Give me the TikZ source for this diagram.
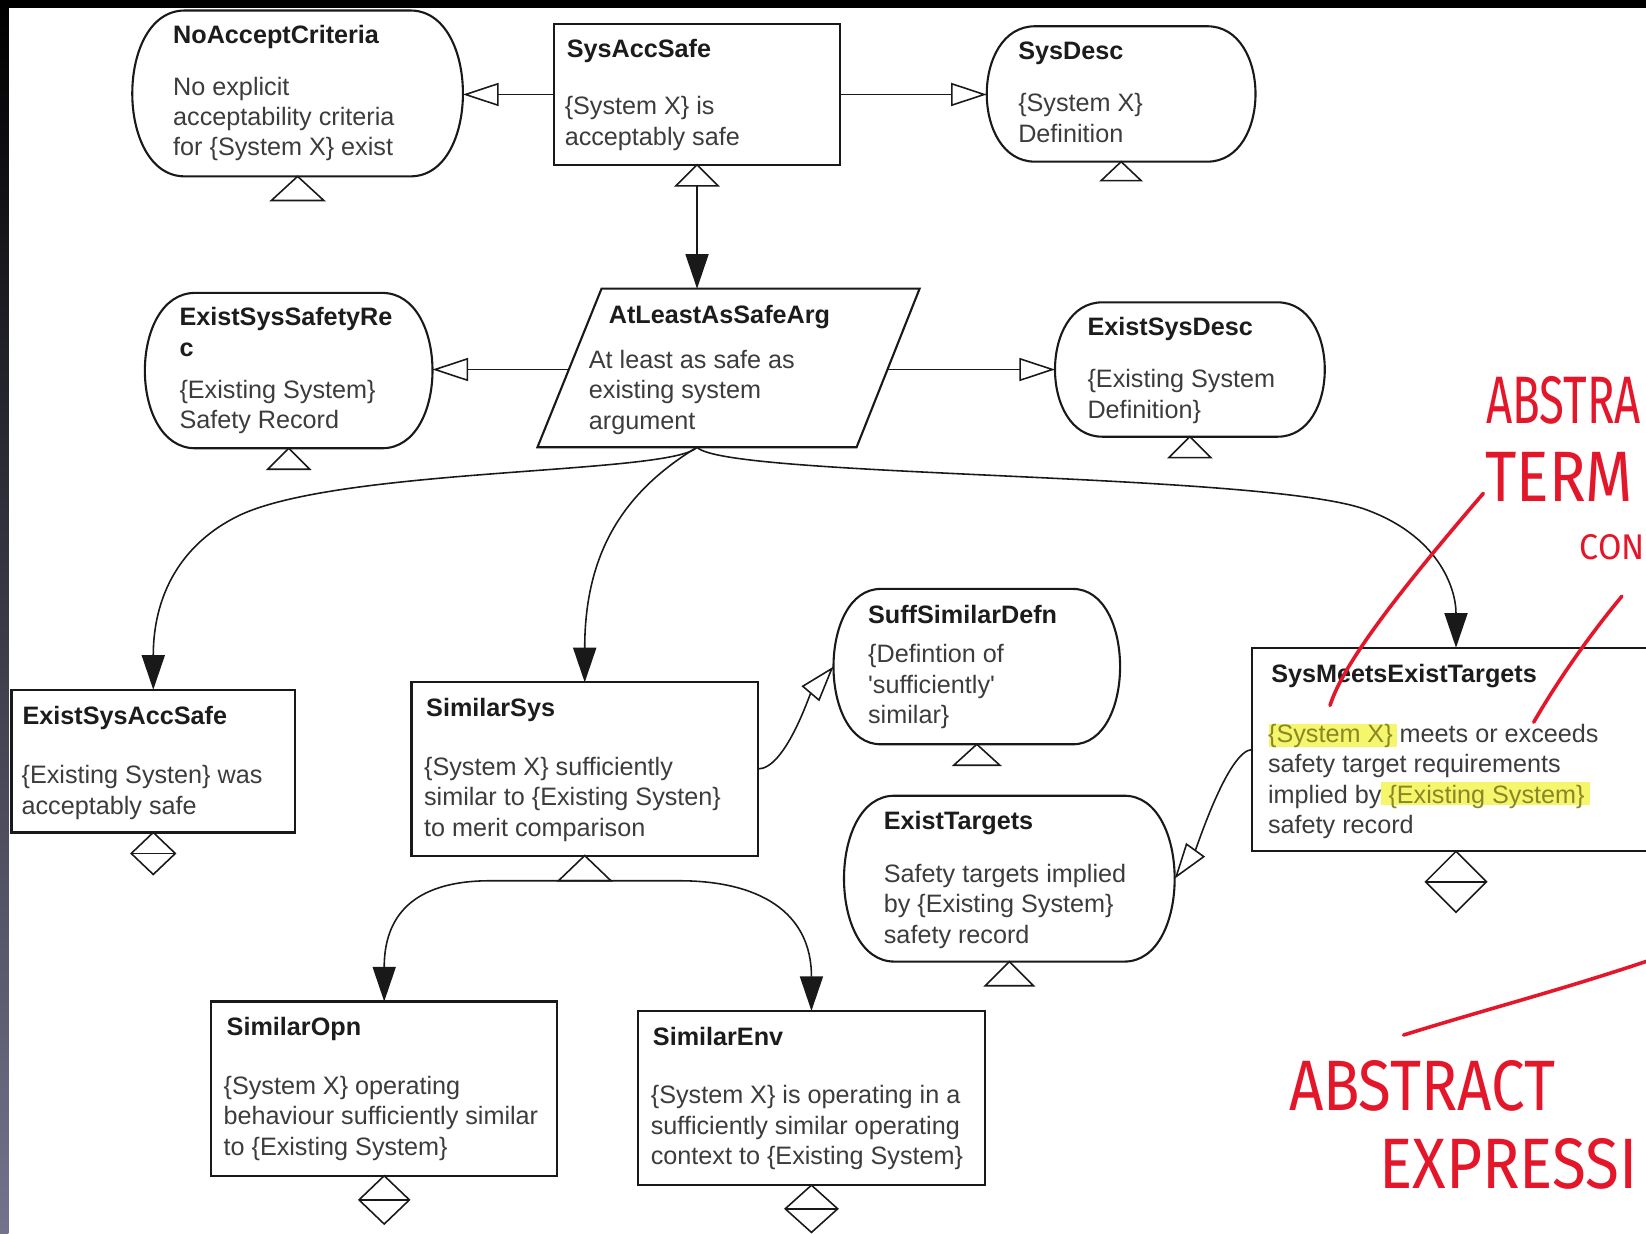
\documentclass[tikz,border=0pt]{standalone}
\usepackage{graphicx}
\usepackage{fontspec}
\setmainfont{Liberation Sans}
\newfontfamily\plainq{Liberation Sans}
\newfontfamily\hand{Fira Sans}
\usetikzlibrary{arrows.meta,calc,fit}
\definecolor{lnc}{RGB}{25,25,25}
\definecolor{titc}{RGB}{28,28,28}
\definecolor{bodc}{RGB}{60,60,60}
\definecolor{penred}{RGB}{228,22,42}
\definecolor{hlyel}{RGB}{246,246,108}
\definecolor{hltxt}{RGB}{135,135,40}
\definecolor{stripbot}{RGB}{115,115,140}
\newcommand{\Lns}[1]{\vtop{\baselineskip=14.5pt\lineskiplimit=-30pt\lineskip=0pt #1}}
\newcommand{\sq}{{\plainq'}}
\newcommand{\ctxdraw}[2]{\draw[sym, line width=1pt] ($(#1.north west)+(#2,0)$) -- ($(#1.north east)+(-#2,0)$) .. controls +({1.3333*#2},0) and +({1.3333*#2},0) .. ($(#1.south east)+(-#2,0)$) -- ($(#1.south west)+(#2,0)$) .. controls +({-1.3333*#2},0) and +({-1.3333*#2},0) .. ($(#1.north west)+(#2,0)$) -- cycle;}
\newcommand{\undevtri}[3]{\draw[sym] (#1.south) -- ++(#2,#3) -- ++({-2*#2},0) -- cycle;}
\newcommand{\instdiam}[3]{\draw[sym] (#1.south) -- ++(#2,#3) -- ++(-#2,#3) -- ++(-#2,-#3) -- cycle; \draw[sym] ($(#1.south)+(-#2,#3)$) -- ++({2*#2},0);}
\tikzset{
 every node/.style={inner sep=0pt, outer sep=0pt},
 goalbox/.style={draw=lnc, line width=1pt, fill=white},
 ctxbox/.style={draw=none},
 ttl/.style={anchor=base west, text=titc, font=\fontsize{12pt}{14.5pt}\selectfont\bfseries},
 bdy/.style={anchor=base west, text=bodc, font=\fontsize{12pt}{14.5pt}\selectfont},
 conn/.style={draw=lnc, line width=0.75pt},
 supp/.style={conn, -{Triangle[length=16.5pt,width=11pt]}},
 incx/.style={conn, -{Triangle[open,length=17pt,width=11pt,fill=white]}},
 sym/.style={draw=lnc, line width=0.75pt, fill=white},
 redline/.style={draw=penred, line width=1.7pt, line cap=round},
 pentxt/.style={text=penred, anchor=base west}
}
\begin{document}
\begin{tikzpicture}[x=0.5pt,y=-0.5pt]
\useasboundingbox (0,0) rectangle (1568,1175);
\clip (0,0) rectangle (1568,1175);
\fill[white] (0,0) rectangle (1568,1175);
\shade[top color=black, bottom color=stripbot] (0,0) rectangle (8,1175);
\fill[black] (0,0) rectangle (1568,7.5);

% ---------- NoAcceptCriteria
\node[ctxbox, fit={(126,10) (441,168)}] (nac) {};
\ctxdraw{nac}{50}
\undevtri{nac}{25}{23}
\node[ttl] (nacT) at (165,41.5) {NoAcceptCriteria};
\node[bdy] (nacB) at (165,90.5) {\Lns{\hbox{No explicit}\hbox{acceptability criteria}\hbox{for \{System X\} exist}}};

% ---------- SysAccSafe
\node[goalbox, fit={(528,23) (800,157)}] (sas) {};
\undevtri{sas}{20}{20}
\coordinate (sasTb) at ($(sas.south)+(0,20)$);
\node[ttl] (sasT) at (540,54.5) {SysAccSafe};
\node[bdy] (sasB) at (538,109.5) {\Lns{\hbox{\{System X\} is}\hbox{acceptably safe}}};

% ---------- SysDesc
\node[ctxbox, fit={(940,25) (1196,154)}] (sd) {};
\ctxdraw{sd}{46}
\undevtri{sd}{19}{18}
\node[ttl] (sdT) at (970,56.5) {SysDesc};
\node[bdy] (sdB) at (970,106.5) {\Lns{\hbox{\{System X\}}\hbox{Definition}}};

% ---------- AtLeastAsSafeArg
\draw[sym, line width=1pt] (573,275) -- (876,275) -- (816,426) -- (512,426) -- cycle;
\coordinate (argT) at (664,275);
\coordinate (argB) at (664,426);
\coordinate (argL) at (542,352);
\coordinate (argR) at (845,352);
\node[ttl] (argTt) at (580,308) {AtLeastAsSafeArg};
\node[bdy] (argBt) at (561,351) {\Lns{\hbox{At least as safe as}\hbox{existing system}\hbox{argument}}};

% ---------- ExistSysSafetyRec
\node[ctxbox, fit={(138,279) (412,427)}] (esr) {};
\ctxdraw{esr}{48}
\undevtri{esr}{20}{20}
\node[ttl] (esrT) at (171,310.5) {\Lns{\hbox{ExistSysSafetyRe}\hbox{c}}};
\node[bdy] (esrB) at (171,379.5) {\Lns{\hbox{\{Existing System\}}\hbox{Safety Record}}};

% ---------- ExistSysDesc
\node[ctxbox, fit={(1005,288) (1262,416)}] (esd) {};
\ctxdraw{esd}{45}
\undevtri{esd}{20}{20}
\node[ttl] (esdT) at (1036,319.5) {ExistSysDesc};
\node[bdy] (esdB) at (1036,369.5) {\Lns{\hbox{\{Existing System}\hbox{Definition\}}}};

% ---------- ExistSysAccSafe
\node[goalbox, fit={(11,657) (281,793)}] (esa) {};
\instdiam{esa}{21}{20}
\node[ttl] (esaT) at (21.6,690.5) {ExistSysAccSafe};
\node[bdy] (esaB) at (20.6,746.5) {\Lns{\hbox{\{Existing Systen\} was}\hbox{acceptably safe}}};

% ---------- SimilarSys
\node[goalbox, fit={(392,650) (722,815)}] (ss) {};
\undevtri{ss}{25}{24}
\coordinate (ssTb) at ($(ss.south)+(0,24)$);
\node[ttl] (ssT) at (406,682.5) {SimilarSys};
\node[bdy] (ssB) at (404,738.5) {\Lns{\hbox{\{System X\} sufficiently}\hbox{similar to \{Existing Systen\}}\hbox{to merit comparison}}};

% ---------- SuffSimilarDefn
\node[ctxbox, fit={(794,561) (1067,709)}] (ssd) {};
\ctxdraw{ssd}{45}
\undevtri{ssd}{22}{20}
\node[ttl] (ssdT) at (827,593.5) {SuffSimilarDefn};
\node[bdy] (ssdB) at (827,631.5) {\Lns{\hbox{\{Defintion of}\hbox{\sq sufficiently\sq}\hbox{similar\}}}};

% ---------- ExistTargets
\node[ctxbox, fit={(804,758) (1119,916)}] (et) {};
\ctxdraw{et}{48}
\undevtri{et}{23}{23}
\node[ttl] (etT) at (842,790.5) {ExistTargets};
\node[bdy] (etB) at (842,840.5) {\Lns{\hbox{Safety targets implied}\hbox{by \{Existing System\}}\hbox{safety record}}};

% ---------- SysMeetsExistTargets
\node[goalbox, fit={(1193,617) (1581,811)}] (smt) {};
\instdiam{smt}{29}{29}
\fill[hlyel] (1209,690) rectangle (1331,712);
\fill[hlyel] (1316,745) rectangle (1515,767);
\node[ttl] (smtT) at (1211,650) {SysMeetsExistTargets};
\node[bdy] (smtB) at (1208,707) {\Lns{\hbox{{\color{hltxt}\{System X\}} meets or exceeds}\hbox{safety target requirements}\hbox{implied by {\color{hltxt}\{Existing System\}}}\hbox{safety record}}};

% ---------- SimilarOpn
\node[goalbox, fit={(201,954) (531,1120)}] (so) {};
\instdiam{so}{24}{23}
\node[ttl] (soT) at (216,986.5) {SimilarOpn};
\node[bdy] (soB) at (213,1042.5) {\Lns{\hbox{\{System X\} operating}\hbox{behaviour sufficiently similar}\hbox{to \{Existing System\}}}};

% ---------- SimilarEnv
\node[goalbox, fit={(608,963) (938,1129)}] (se) {};
\instdiam{se}{25}{22.5}
\node[ttl] (seT) at (622,995.5) {SimilarEnv};
\node[bdy] (seB) at (620,1051.5) {\Lns{\hbox{\{System X\} is operating in a}\hbox{sufficiently similar operating}\hbox{context to \{Existing System\}}}};

% ---------- connectors
\draw[incx] (sas.west) -- (sas.west -| nac.east);
\draw[incx] (sas.east) -- (sas.east -| sd.west);
\draw[supp] (sasTb) -- (argT);
\draw[incx] (argL) -- (argL -| esr.east);
\draw[incx] (argR) -- (argR -| esd.west);
\draw[supp] (argB) .. controls (640,452) and (330,445) .. (230,490) .. controls (170,518) and (146,570) .. (esa.north);
\draw[supp] (argB) .. controls (600,465) and (557,520) .. (ss.north);
\draw[supp] (argB) .. controls (690,455) and (1200,450) .. (1300,485) .. controls (1370,510) and (1387,560) .. (smt.north);
\draw[incx] (ss.east) .. controls +(26,0) and (771,662) .. (ssd.west);
\draw[incx] (smt.west) .. controls +(-23,0) and (1140,808) .. (et.east);
\draw[supp] (ssTb) -- ++(-90,0) .. controls +(-75,0) and +(0,-80) .. (so.north);
\draw[supp] (ssTb) -- ++(90,0) .. controls +(75,0) and +(0,-95) .. (se.north);

% ---------- red handwriting
\draw[redline] (1413,470) .. controls (1340,555) and (1280,630) .. (1267,672);
\draw[redline] (1545,568) .. controls (1510,610) and (1480,655) .. (1461,688);
\draw[redline] (1337,986) .. controls (1420,960) and (1500,940) .. (1600,905);
\node[pentxt, font=\hand\fontsize{32pt}{32pt}\selectfont] (hw1) at (1416,403) {\scalebox{0.68}[1]{ABSTRA}};
\node[pentxt, font=\hand\fontsize{34pt}{34pt}\selectfont] (hw2) at (1415,478) {\scalebox{0.85}[1]{TERM}};
\node[pentxt, font=\hand\fontsize{17pt}{17pt}\selectfont] (hw3) at (1505,533) {\scalebox{0.95}[1]{CON}};
\node[pentxt, font=\hand\fontsize{34pt}{34pt}\selectfont] (hw4) at (1228,1058) {\scalebox{0.84}[1]{ABSTRACT}};
\node[pentxt, font=\hand\fontsize{34pt}{34pt}\selectfont] (hw5) at (1314,1132) {\scalebox{0.87}[1]{EXPRESSI}};
\end{tikzpicture}
\end{document}
